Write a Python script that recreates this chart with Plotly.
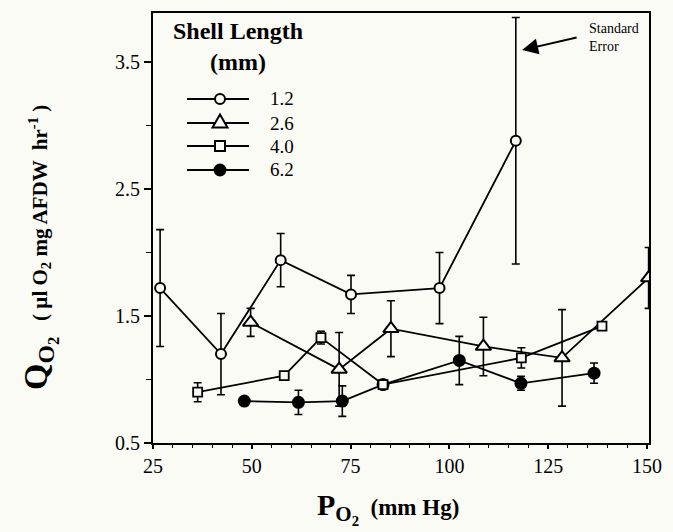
import plotly.graph_objects as go

# ---- data ----
x_12 = [26.8, 42.2, 57.3, 75.1, 97.5, 116.8]
y_12 = [1.72, 1.20, 1.94, 1.67, 1.72, 2.88]
e_12 = [0.46, 0.32, 0.21, 0.15, 0.28, 0.97]

x_26 = [49.7, 72.1, 85.2, 108.6, 128.5, 150.4]
y_26 = [1.45, 1.08, 1.40, 1.26, 1.17, 1.80]
e_26 = [0.11, 0.29, 0.22, 0.23, 0.38, 0.24]

x_40 = [36.3, 58.2, 67.5, 83.2, 118.2, 138.6]
y_40 = [0.90, 1.03, 1.33, 0.96, 1.17, 1.42]
e_40 = [0.075, 0.0, 0.05, 0.0, 0.08, 0.0]

x_62 = [48.1, 61.8, 72.9, 83.2, 102.5, 118.1, 136.6]
y_62 = [0.83, 0.82, 0.83, 0.96, 1.15, 0.97, 1.05]
e_62 = [0.0, 0.095, 0.12, 0.0, 0.19, 0.055, 0.08]

labels = ["1.2", "2.6", "4.0", "6.2"]
x_ticks = [25, 50, 75, 100, 125, 150]
y_ticks = [0.5, 1.5, 2.5, 3.5]

FONT = "Liberation Serif, Times New Roman, serif"
BG = "#fbfbf6"

W, H = 673, 532
ML, MR, MT, MB = 153, 24, 13, 89
PW, PH = W - ML - MR, H - MT - MB


def px2x(px):
    return (px - ML) / PW


def py2y(py):
    return (H - MB - py) / PH


fig = go.Figure()


def add(xs, ys, es, name, symbol, size, fill, lw=2):
    fig.add_trace(go.Scatter(
        x=xs, y=ys, name=name, mode="lines+markers", showlegend=False,
        line=dict(color="black", width=1.8),
        marker=dict(symbol=symbol, size=size, color=fill,
                    line=dict(color="black", width=lw)),
        error_y=dict(type="data", array=es, visible=True, color="black",
                     thickness=1.6, width=4),
    ))


add(x_12, y_12, e_12, labels[0], "circle", 10, BG)
add(x_26, y_26, e_26, labels[1], "triangle-up", 13.5, BG)
add(x_62, y_62, e_62, labels[3], "circle", 11, "black")
add(x_40, y_40, e_40, labels[2], "square", 9, BG, 1.8)

# ---- hand-drawn legend (key) ----
shapes = []
annotations = []
leg_rows = [99, 123, 146, 170]
lx0, lx1, lxm, ltx = 187, 249, 220, 268
for i, (lab, ry) in enumerate(zip(labels, leg_rows)):
    shapes.append(dict(type="line", xref="paper", yref="paper",
                       x0=px2x(lx0), x1=px2x(lx1), y0=py2y(ry), y1=py2y(ry),
                       line=dict(color="black", width=1.8), layer="above"))
    common = dict(xref="paper", yref="paper", xsizemode="pixel",
                  ysizemode="pixel", xanchor=px2x(lxm), yanchor=py2y(ry),
                  line=dict(color="black", width=2), layer="above")
    if i == 0:
        shapes.append(dict(type="circle", x0=-5, x1=5, y0=-5, y1=5,
                           fillcolor=BG, **common))
    elif i == 1:
        shapes.append(dict(type="path", path="M-7.5,-4.5 L7.5,-4.5 L0,8.5 Z",
                           fillcolor=BG, **common))
    elif i == 2:
        shapes.append(dict(type="rect", x0=-5, x1=5, y0=-5, y1=5,
                           fillcolor=BG, **common))
    else:
        shapes.append(dict(type="circle", x0=-5.5, x1=5.5, y0=-5.5, y1=5.5,
                           fillcolor="black", **common))
    annotations.append(dict(xref="paper", yref="paper", x=px2x(ltx),
                            y=py2y(ry), xanchor="left", yanchor="middle",
                            showarrow=False, text=lab,
                            font=dict(family=FONT, size=19)))

annotations.append(dict(xref="paper", yref="paper", x=px2x(238), y=py2y(47),
                        xanchor="center", yanchor="middle", showarrow=False,
                        align="center", font=dict(family=FONT, size=24),
                        text="<b>Shell Length</b><br><b>(mm)</b>"))

# axis titles
annotations.append(dict(
    xref="paper", yref="paper", x=px2x(40), y=py2y(248), xanchor="center",
    yanchor="middle", textangle=-90, showarrow=False,
    font=dict(family=FONT, size=34),
    text='<b>Q<sub>O<sub>2</sub></sub></b>'
         '<span style="font-size:21px"><b>   ( µl O<sub>2</sub> mg AFDW  hr<sup>-1</sup> )</b></span>'))
annotations.append(dict(
    xref="paper", yref="paper", x=px2x(388), y=py2y(508), xanchor="center",
    yanchor="middle", showarrow=False,
    font=dict(family=FONT, size=30),
    text='<b>P<sub>O<sub>2</sub></sub></b>'
         '<span style="font-size:23px"><b>  (mm Hg)</b></span>'))

# standard error note
annotations.append(dict(x=134.9, y=3.693, xanchor="left", yanchor="middle",
                        showarrow=False, align="left",
                        font=dict(family=FONT, size=14),
                        text="Standard<br>Error"))
annotations.append(dict(x=118.4, y=3.594, ax=56, ay=-13, text="",
                        showarrow=True, arrowhead=2, arrowsize=1.6,
                        arrowwidth=2, arrowcolor="black"))

fig.update_layout(
    width=W, height=H,
    margin=dict(l=ML, r=MR, t=MT, b=MB),
    paper_bgcolor=BG, plot_bgcolor=BG,
    font=dict(family=FONT, color="black", size=15),
    showlegend=False,
    xaxis=dict(
        range=[25, 150.5], tickvals=x_ticks, ticktext=[str(v) for v in x_ticks],
        showgrid=False, zeroline=False, showline=True, linecolor="black",
        linewidth=1.8, mirror=True, ticks="outside", ticklen=4, tickwidth=1.5,
        tickcolor="black", tickfont=dict(family=FONT, size=20),
        minor=dict(dtick=5, tick0=25, ticks="outside", ticklen=3, tickwidth=1.2,
                   tickcolor="black"),
    ),
    yaxis=dict(
        range=[0.5, 3.886], tickvals=y_ticks, ticktext=[str(v) for v in y_ticks],
        showgrid=False, zeroline=False, showline=True, linecolor="black",
        linewidth=1.8, mirror=True, ticks="outside", ticklen=7, tickwidth=1.5,
        tickcolor="black", tickfont=dict(family=FONT, size=20),
        minor=dict(dtick=0.5, tick0=0.5, ticks="outside", ticklen=5,
                   tickwidth=1.2, tickcolor="black"),
    ),
    shapes=shapes,
    annotations=annotations,
)

fig.write_html("out.html", config={"displayModeBar": False},
               post_script="document.body.style.margin='0';document.body.style.overflow='hidden';")
